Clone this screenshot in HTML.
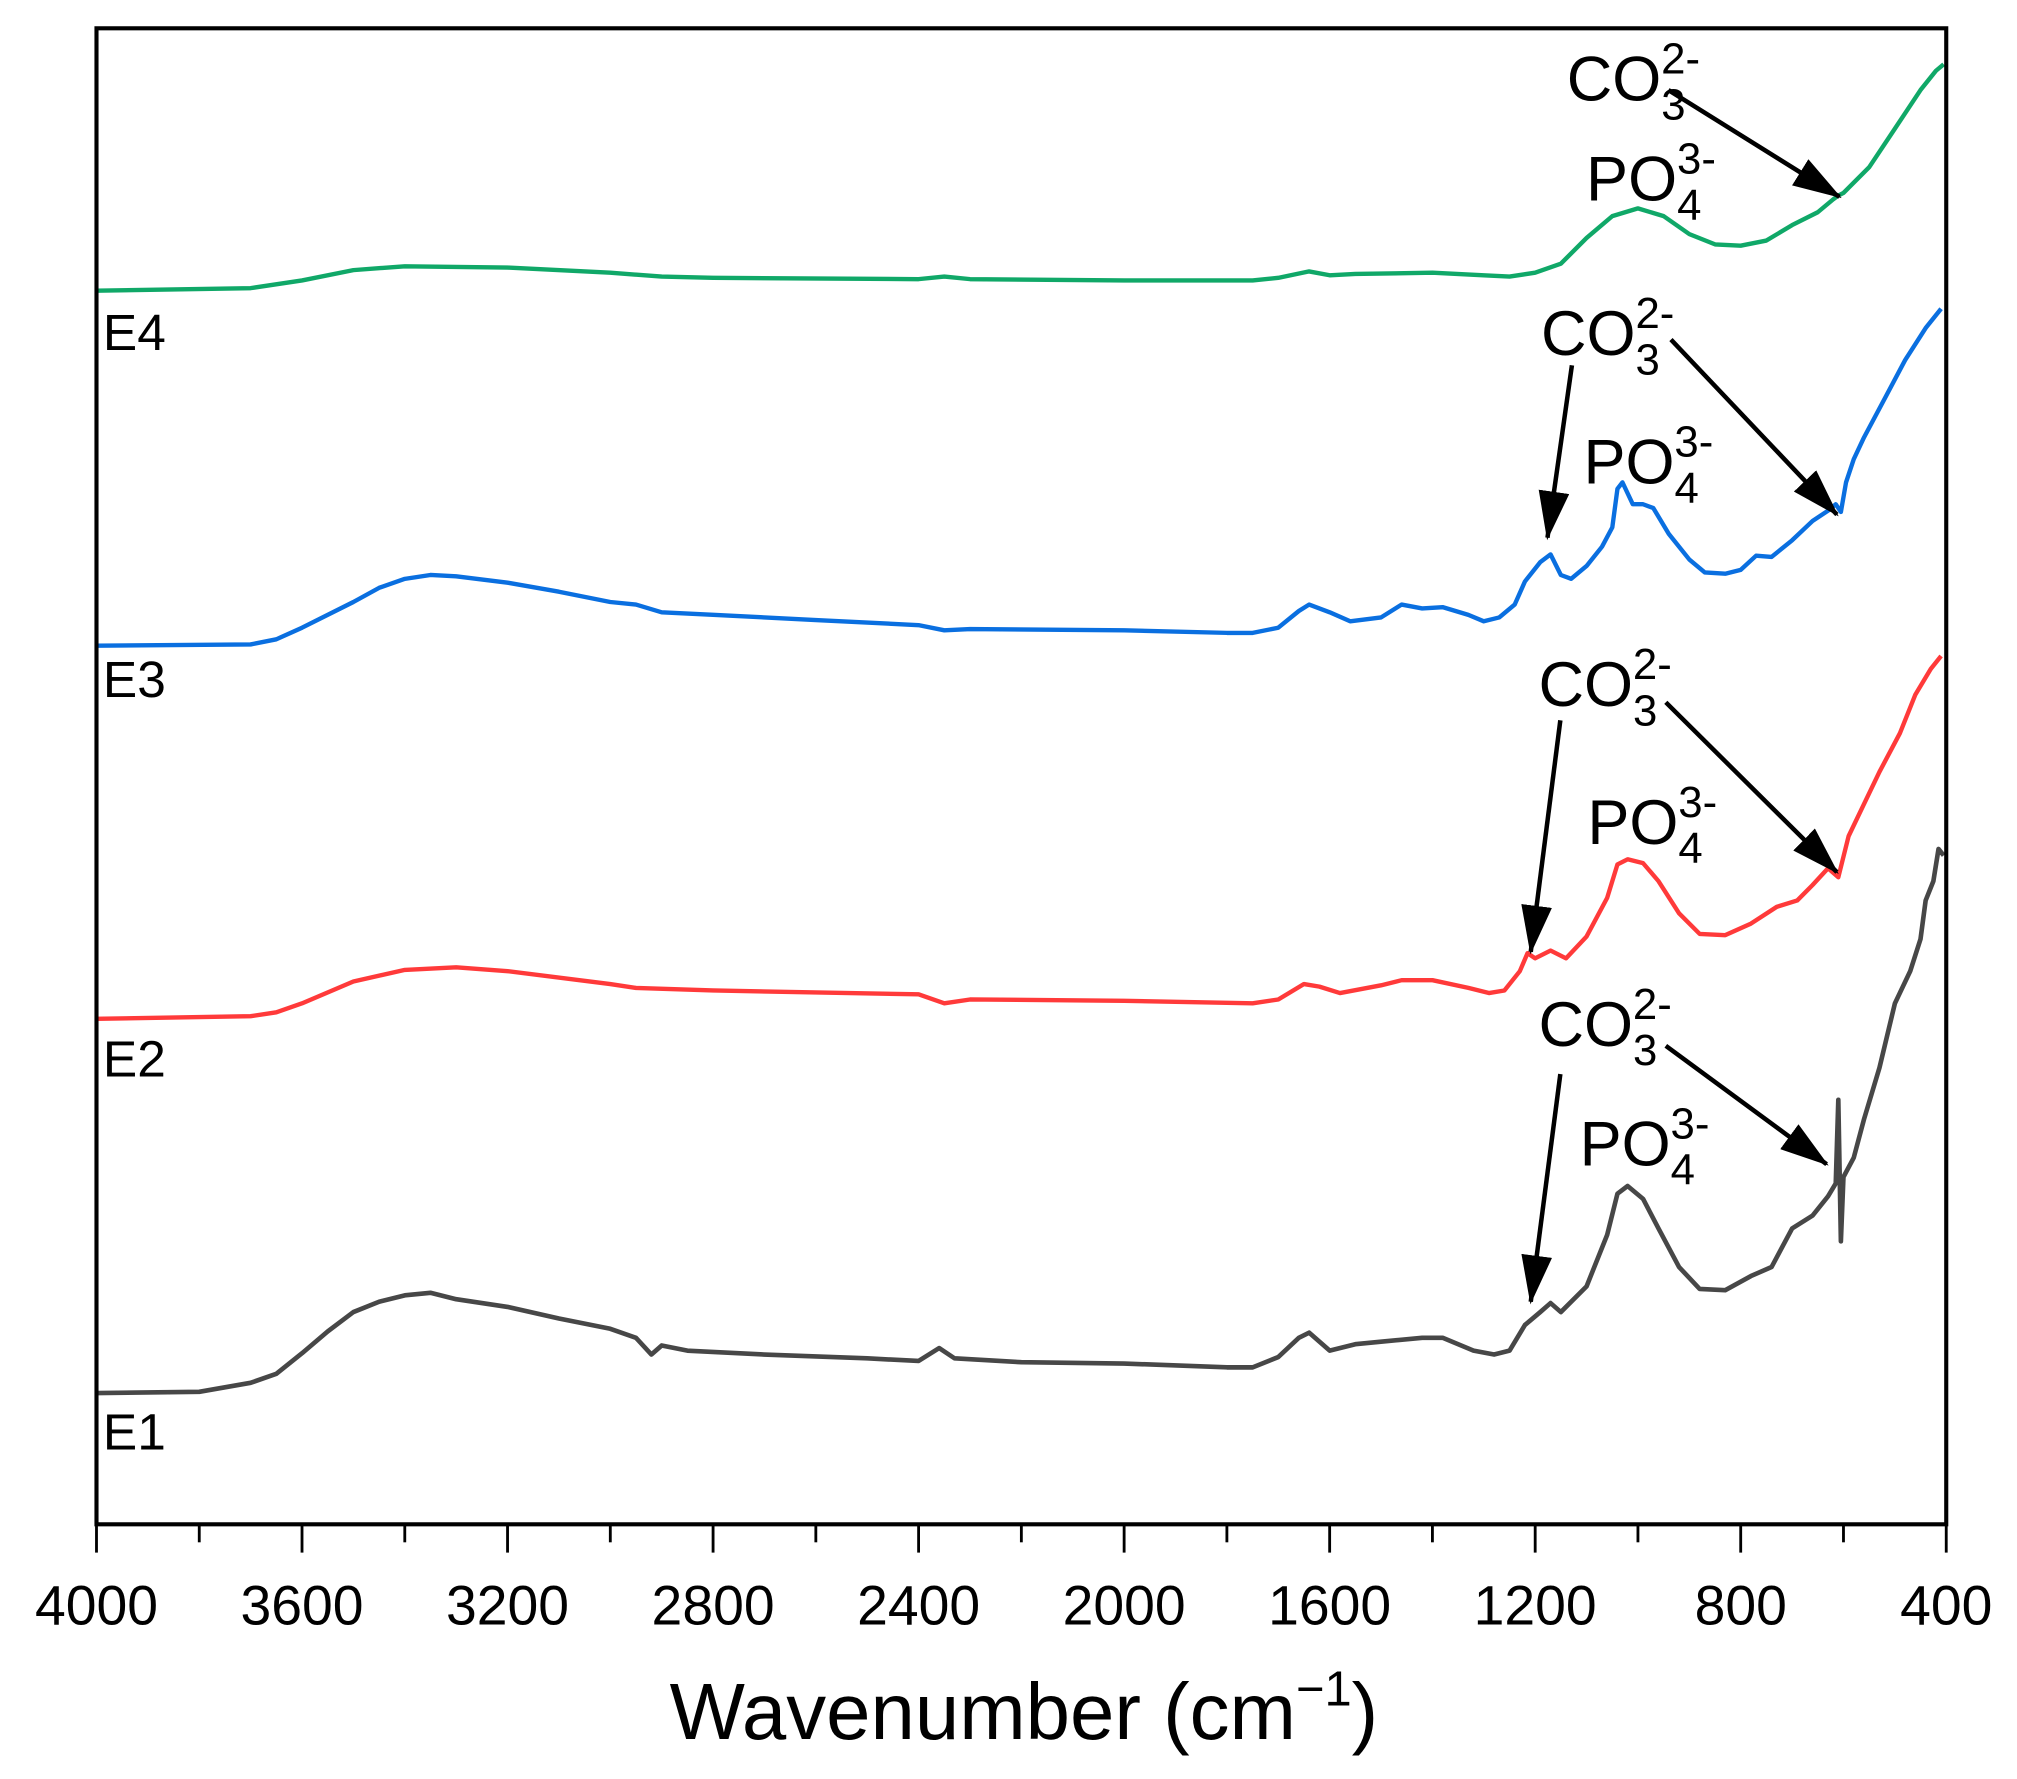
<!DOCTYPE html>
<html><head><meta charset="utf-8"><style>
html,body{margin:0;padding:0;background:#fff;}
svg{display:block;font-family:"Liberation Sans",Arial,sans-serif;}
</style></head><body>
<svg id="chart" width="2017" height="1779" viewBox="0 0 1568 1383" xmlns="http://www.w3.org/2000/svg">
<defs>
<marker id="ahb" markerWidth="38" markerHeight="24" refX="36" refY="12" orient="auto" markerUnits="userSpaceOnUse"><path d="M0,0 L38,12 L0,24 z" fill="#000"/></marker></defs>
<g id="series"></g>
<g id="axes"></g>
<g id="annot"></g>
</svg>
<script>
const xTicks=[4000,3600,3200,2800,2400,2000,1600,1200,800,400];
const e4Wn=[4000,3700,3600,3500,3400,3200,3000,2900,2800,2400,2350,2300,2000,1750,1700,1640,1600,1550,1400,1300,1250,1200,1150,1100,1050,1000,950,900,850,800,750,700,650,620,610,600,550,500,450,420,405];
const e4Val=[959,961,967,975,978,977,973,970,969,968,970,968,967,967,969,974,971,972,973,971,970,973,980,1000,1017,1023,1017,1003,995,994,998,1010,1020,1030,1033,1035,1055,1085,1115,1130,1135];
const e3Wn=[4000,3700,3650,3600,3500,3450,3400,3350,3300,3200,3100,3000,2950,2900,2800,2600,2400,2350,2300,2000,1800,1750,1700,1660,1640,1600,1560,1500,1460,1420,1380,1330,1300,1270,1240,1220,1190,1170,1150,1130,1100,1070,1050,1040,1030,1010,990,970,940,900,870,830,800,770,740,700,660,630,615,605,595,580,560,520,480,440,410];
const e3Val=[683,684,688,697,717,728,735,738,737,732,725,717,715,709,707,703,699,695,696,695,693,693,697,710,715,709,702,705,715,712,713,707,702,705,715,733,748,754,738,735,745,760,775,805,810,793,793,790,770,750,740,739,742,753,752,765,780,788,793,787,810,828,845,875,905,930,945];
const e2Wn=[4000,3700,3650,3600,3500,3400,3300,3200,3000,2950,2800,2400,2350,2300,2000,1750,1700,1650,1620,1580,1500,1460,1400,1330,1290,1260,1230,1215,1200,1170,1140,1100,1060,1040,1020,990,960,920,880,830,780,730,690,660,630,610,590,560,530,490,460,430,410];
const e2Val=[393,395,398,405,422,431,433,430,420,417,415,412,405,408,407,405,408,420,418,413,419,423,423,417,413,415,430,444,440,446,440,457,487,513,517,514,500,475,459,458,467,480,485,497,510,503,535,560,585,615,645,665,675];
const e1Wn=[4000,3800,3700,3650,3600,3550,3500,3450,3400,3350,3300,3200,3100,3000,2950,2920,2900,2850,2700,2500,2400,2360,2330,2200,2000,1800,1750,1700,1660,1640,1600,1550,1500,1420,1380,1320,1280,1250,1220,1190,1170,1150,1100,1060,1040,1020,990,960,920,880,830,780,740,700,660,630,615,610,605,600,580,560,530,500,470,450,440,425,415,405];
const e1Val=[102,103,110,117,133,150,165,173,178,180,175,169,160,152,145,132,139,135,132,129,127,137,129,126,125,122,122,130,145,149,135,140,142,145,145,135,132,135,155,165,172,165,185,225,257,263,253,230,200,183,182,193,200,230,240,255,265,330,220,270,285,315,355,405,430,455,485,500,525,520];
const series=[
 {name:'E1',wn:e1Wn,val:e1Val,color:'#474747',lw:3.6},
 {name:'E2',wn:e2Wn,val:e2Val,color:'#ff3a3a',lw:3.4},
 {name:'E3',wn:e3Wn,val:e3Val,color:'#0a6fe0',lw:3.4},
 {name:'E4',wn:e4Wn,val:e4Val,color:'#10a868',lw:3.4}];
const X0=75,X1=1513,Y0=22,Y1=1185;
const xS=w=>X0+(4000-w)/3600*(X1-X0);
const yS=v=>Y1-v;
const NS='http://www.w3.org/2000/svg';
function mk(t,a,p){const e=document.createElementNS(NS,t);for(const k in a)e.setAttribute(k,a[k]);p.appendChild(e);return e;}
const sg=document.getElementById('series');
series.forEach(s=>{
 const d=s.wn.map((w,i)=>(i?'L':'M')+xS(w).toFixed(1)+','+yS(s.val[i]).toFixed(1)).join(' ');
 const p=mk('path',{d:d,fill:'none',stroke:s.color,'stroke-width':s.lw,'stroke-linejoin':'round'},sg);
 
 
});
const ax=document.getElementById('axes');
const fr=mk('rect',{x:X0,y:Y0,width:X1-X0,height:Y1-Y0,fill:'none',stroke:'#000','stroke-width':3.2},ax);


for(let w=4000;w>=400;w-=200){
 const major=(w%400===0);
 const t=mk('line',{x1:xS(w),x2:xS(w),y1:Y1,y2:Y1+(major?22:14),stroke:'#000','stroke-width':2.2},ax);
 
 
}
xTicks.forEach(w=>{
 const t=mk('text',{x:xS(w),y:1263,'font-size':43,'text-anchor':'middle',fill:'#000'},ax);
 t.textContent=String(w);
 
 
});
const tt=mk('text',{x:796,y:1352,'font-size':62,'text-anchor':'middle',fill:'#000'},ax);
tt.innerHTML='Wavenumber (cm<tspan font-size="38" dy="-26">\u22121</tspan><tspan dy="26">)</tspan>';


const an=document.getElementById('annot');
[['E4',272],['E3',542],['E2',837],['E1',1127]].forEach(([n,y])=>{
 const t=mk('text',{x:80,y:y,'font-size':40,fill:'#000'},an);
 t.textContent=n;
 
 
});
function ion(x,y,base,sub,sup,name){
 const t=mk('text',{x:x,y:y,'font-size':49,fill:'#000'},an);
 t.innerHTML=base+'<tspan font-size="34" dy="15">'+sub+'</tspan><tspan font-size="34" dx="-19" dy="-36">'+sup+'</tspan>';
 
 
}
function arr(x1,y1,x2,y2){
 const l=mk('line',{x1:x1,y1:y1,x2:x2,y2:y2,stroke:'#000','stroke-width':3.5,'marker-end':'url(#ahb)'},an);
 
 
}
ion(1218,78,'CO','3','2-','co3-label-e4');ion(1233,156,'PO','4','3-','po4-label-e4');arr(1297,70,1430,153);
ion(1198,276,'CO','3','2-','co3-label-e3');ion(1231,376,'PO','4','3-','po4-label-e3');arr(1222,284,1203,418);arr(1299,264,1428,400);
ion(1196,549,'CO','3','2-','co3-label-e2');ion(1234,656,'PO','4','3-','po4-label-e2');arr(1213,560,1190,740);arr(1295,546,1428,678);
ion(1196,813,'CO','3','2-','co3-label-e1');ion(1228,906,'PO','4','3-','po4-label-e1');arr(1213,835,1190,1012);arr(1295,813,1420,905);
</script>
</body></html>
